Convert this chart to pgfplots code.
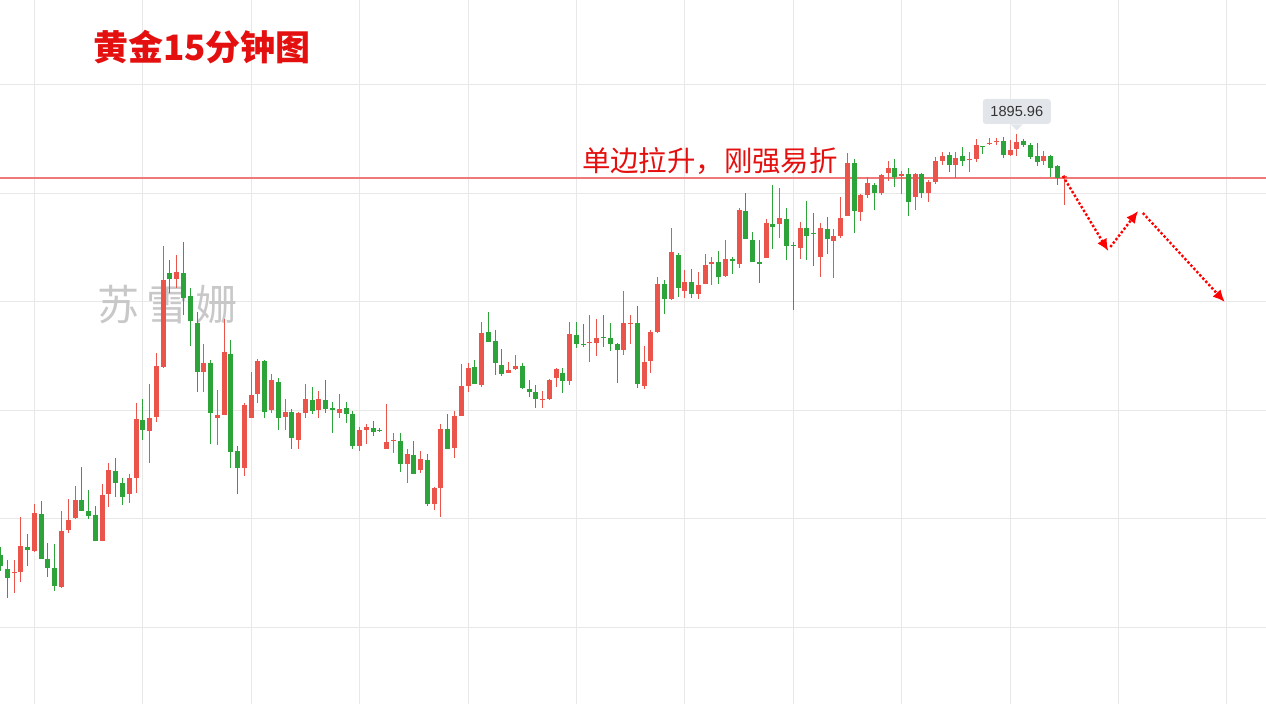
\documentclass[border=0pt]{standalone}
\usepackage{fontspec}
\usepackage{pgfplots}
\pgfplotsset{compat=1.18}
\usepackage{pgfplotstable}
\usetikzlibrary{arrows.meta}
\setmainfont{Liberation Sans}
\newfontfamily\cjk{Noto Sans CJK SC}
\definecolor{cred}{RGB}{234,84,74}
\definecolor{cgreen}{RGB}{44,164,58}
\definecolor{gridc}{RGB}{232,232,232}
\definecolor{pxline}{RGB}{240,120,120}
\definecolor{ttl}{RGB}{228,16,16}
\definecolor{wm}{RGB}{200,200,200}
\definecolor{tagc}{RGB}{226,230,234}

% columns: i = candle index, bt/bb = body top/bottom, wt/wb = wick top/bottom (chart rows, downward)
\pgfplotstableread{
i bt bb wt wb
-3 572 573 560 593
-2 546 572 517 582
0 513 551 504 552
4 531 587 511 588
5 520 530 499 533
6 500 518 486 519
10 495 541 484 541
11 470 494 463 507
14 478 494 474 503
15 419 478 403 493
17 418 431 384 463
18 366 417 353 422
19 280 367 246 368
21 272 279 255 288
25 363 372 344 392
27 415 418 390 445
28 352 415 319 415
31 405 468 403 476
32 395 418 372 418
33 361 394 359 403
35 380 410 374 413
37 412 417 399 430
39 413 440 412 449
40 399 413 384 418
42 399 410 391 418
45 409 413 394 418
48 430 446 427 451
49 427 430 424 444
52 442 449 404 449
53 440 441 433 453
55 454 464 449 483
57 459 470 451 473
59 488 504 487 510
60 429 488 424 517
62 416 448 411 458
63 386 416 364 416
64 368 386 363 392
66 333 385 322 387
70 370 373 362 373
71 366 369 355 370
75 399 400 391 408
76 380 399 379 400
77 369 378 368 387
79 334 381 322 385
82 342 343 315 362
83 338 343 319 356
87 323 350 291 355
88 323 324 315 344
90 362 386 346 389
91 332 361 330 373
92 284 332 277 333
94 252 299 228 300
96 282 291 270 298
98 285 294 272 299
99 265 284 254 284
100 262 264 257 285
102 259 276 240 277
104 210 264 208 268
108 223 258 219 258
110 218 224 188 238
113 228 248 222 259
116 228 257 223 277
118 236 241 229 278
119 218 236 197 238
120 163 216 153 216
122 195 212 194 221
123 183 195 177 198
125 175 193 174 195
126 168 173 161 181
128 174 176 171 194
130 174 197 173 210
132 182 193 180 202
133 161 182 157 184
134 156 161 152 165
136 158 165 152 178
138 159 160 152 172
139 145 159 139 162
141 143 144 138 145
142 141 142 138 145
144 150 155 140 156
145 142 149 134 156
149 156 161 151 165
152 176 178 175 205
}\redc

\pgfplotstableread{
i bt bb wt wb
-5 555 566 547 571
-4 569 578 560 598
-1 547 550 534 566
1 514 559 501 559
2 559 568 543 577
3 568 586 544 591
7 500 511 467 511
8 511 516 490 519
9 515 541 506 541
12 471 483 458 497
13 483 497 478 505
16 420 430 399 440
20 273 279 260 293
22 273 298 242 315
23 296 321 288 346
24 323 372 312 392
26 363 413 360 444
29 354 452 340 468
30 451 468 446 494
34 361 412 360 418
36 382 418 378 430
38 412 438 409 449
41 400 411 387 414
43 400 409 380 413
44 408 410 402 433
46 408 414 402 423
47 414 446 411 449
50 428 432 421 436
51 430 431 428 432
54 441 464 433 472
56 455 474 441 474
58 460 504 454 506
61 429 449 414 449
65 367 384 360 384
67 332 342 312 342
68 341 363 330 375
69 365 374 349 376
72 366 388 363 389
73 389 392 380 397
74 392 399 385 408
78 373 381 368 393
80 335 344 322 348
81 344 345 324 347
84 337 338 315 347
85 338 344 323 351
86 344 350 343 383
89 323 384 306 388
93 284 299 280 314
95 255 288 253 297
97 282 294 269 298
101 262 277 251 284
103 259 261 257 274
105 211 239 193 239
106 240 262 232 262
107 262 264 240 283
109 224 227 185 249
111 219 246 208 260
112 245 246 242 310
114 228 236 201 260
115 233 234 213 266
117 229 239 217 254
121 163 211 159 233
124 185 193 183 210
127 168 177 159 187
129 174 202 168 216
131 174 193 173 198
135 155 165 152 172
137 156 161 147 166
140 146 147 146 154
143 141 155 137 158
146 141 145 139 147
147 145 157 143 159
148 156 162 143 166
150 156 168 155 177
151 166 178 165 185
}\greenc

\pgfplotsset{candle/.style={draw=none, mark=none, mark size=0pt,
  error bars/.cd, y dir=plus, y explicit, error mark=none}}

\begin{document}
\begin{tikzpicture}
\begin{axis}[
  width=633pt, height=352pt, scale only axis,
  xmin=-5.0775, xmax=181.78, ymin=0, ymax=704, y dir=reverse,
  xtick={0,16,...,176}, ytick={85,193.4,301.8,410.2,518.6,627},
  xticklabels={}, yticklabels={},
  major tick length=0pt,
  grid=major, major grid style={draw=gridc, line width=0.5pt},
  axis line style={draw=none},
  clip=true,
]
% watermark
\node[text=wm, font=\cjk\fontsize{21}{24}\selectfont, inner sep=0pt] at (axis cs:19.6,305) {苏\hspace{3.5pt}雪\hspace{3.5pt}姗};
% current price line
\addplot[color=pxline, solid, line width=0.6pt, mark=none] coordinates {(-6,178) (182,178)};
% wicks
\addplot[candle, error bar style={draw=cred, line width=0.5pt}]
  table[x=i, y=wt, y error plus expr=\thisrow{wb}-\thisrow{wt}] {\redc};
\addplot[candle, error bar style={draw=cgreen, line width=0.5pt}]
  table[x=i, y=wt, y error plus expr=\thisrow{wb}-\thisrow{wt}] {\greenc};
% bodies
\addplot[candle, error bar style={draw=cred, line width=2.5pt}]
  table[x=i, y=bt, y error plus expr=\thisrow{bb}-\thisrow{bt}] {\redc};
\addplot[candle, error bar style={draw=cgreen, line width=2.5pt}]
  table[x=i, y=bt, y error plus expr=\thisrow{bb}-\thisrow{bt}] {\greenc};
% projected path
\addplot[red, densely dotted, line width=1.2pt, mark=none, -{Latex[length=6pt,width=5.5pt]}] coordinates {(151.8,176) (158.5,251)};
\addplot[red, densely dotted, line width=1.2pt, mark=none, -{Latex[length=6pt,width=5.5pt]}] coordinates {(158.8,247) (162.9,211)};
\addplot[red, densely dotted, line width=1.2pt, mark=none, -{Latex[length=6pt,width=5.5pt]}] coordinates {(163.6,213) (175.7,302)};
% texts
\node[text=ttl, font=\cjk\bfseries\fontsize{17.5}{20}\selectfont, inner sep=0pt] at (axis cs:24.74,47) {黄金15分钟图};
\node[text=ttl, font=\cjk\fontsize{14.2}{16}\selectfont, inner sep=0pt] at (axis cs:99.7,161) {单边拉升，刚强易折};
% price tag
\node[fill=tagc, rounded corners=1.5pt, minimum width=34pt, minimum height=12.5pt, inner sep=0pt,
  text=black!80, font=\fontsize{7.3}{8}\selectfont] (tag) at (axis cs:145.0,111.5) {1895.96};
\fill[tagc] ([xshift=-3pt]tag.south) -- ([xshift=3pt]tag.south) -- ([yshift=-3pt]tag.south) -- cycle;
\end{axis}
\pgfresetboundingbox
\path[use as bounding box] (current axis.south west) rectangle (current axis.north east);
\end{tikzpicture}
\end{document}
